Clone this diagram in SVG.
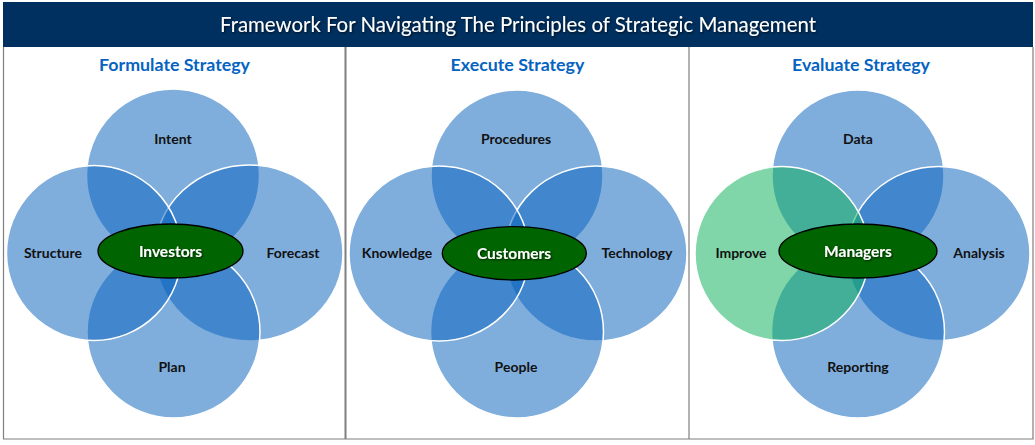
<svg xmlns="http://www.w3.org/2000/svg" width="1035" height="445" viewBox="0 0 1035 445">
<defs>
<style>
.bg{fill:#ffffff}
.hdr{fill:#00305f}
.frame{stroke:#7f7f7f;fill:none}
.htxt{font-family:Lato,"Liberation Sans",sans-serif;font-size:20.4px;fill:#ffffff;text-anchor:middle}
.ttl{font-family:Lato,"Liberation Sans",sans-serif;font-size:17.8px;font-weight:bold;fill:#0563c1;text-anchor:middle}
.c{fill:rgb(10,100,190);fill-opacity:0.52;stroke:#ffffff;stroke-width:1.5}
.g{fill:rgb(11,177,88);fill-opacity:0.52;stroke:#ffffff;stroke-width:1.5}
.lbl{font-family:Lato,"Liberation Sans",sans-serif;font-size:14px;font-weight:bold;fill:#111111;text-anchor:middle}
.hub{fill:#006400;stroke:#000000;stroke-width:1.3}
.hubt{font-family:Lato,"Liberation Sans",sans-serif;font-size:15.5px;font-weight:bold;fill:#ffffff;text-anchor:middle}
</style>
<filter id="sh" x="-20%" y="-40%" width="140%" height="180%">
<feDropShadow dx="1" dy="1" stdDeviation="0.8" flood-color="#000000" flood-opacity="0.7"/>
</filter>
</defs>
<rect class="bg" x="0" y="0" width="1035" height="445"/>
<g id="header">
<rect class="hdr" x="3" y="2" width="1030" height="45"/>
<text class="htxt" x="518" y="32" filter="url(#sh)">Framework For Navigating The Principles of Strategic Management</text>
</g>
<g id="frame">
<path class="frame" stroke-width="1.2" d="M3.5,47 V439 H1033 V47"/>
<line class="frame" stroke-width="2" x1="345.5" y1="47" x2="345.5" y2="439"/>
<line class="frame" stroke-width="1.2" x1="689" y1="47" x2="689" y2="439"/>
</g>
<g id="panel-formulate">
<text class="ttl" x="174.5" y="71">Formulate Strategy</text>
<g id="p1-intent"><circle class="c" cx="173" cy="175.5" r="86.5"/></g>
<g id="p1-forecast"><ellipse class="c" cx="249" cy="253" rx="94" ry="88"/></g>
<g id="p1-plan"><circle class="c" cx="173.5" cy="331.5" r="86.5"/></g>
<g id="p1-structure"><circle class="c" cx="94" cy="253" r="87.5"/></g>
<text class="lbl" x="173" y="144">Intent</text>
<text class="lbl" x="293" y="258">Forecast</text>
<text class="lbl" x="172" y="372">Plan</text>
<text class="lbl" x="53" y="258">Structure</text>
<g id="p1-investors">
<ellipse class="hub" cx="170.5" cy="251" rx="72.5" ry="27"/>
<text class="hubt" x="170.5" y="257" filter="url(#sh)">Investors</text>
</g>
</g>
<g id="panel-execute">
<text class="ttl" x="517.5" y="71">Execute Strategy</text>
<g id="p2-procedures"><circle class="c" cx="517" cy="176" r="86"/></g>
<g id="p2-technology"><ellipse class="c" cx="596" cy="253.5" rx="91" ry="87.5"/></g>
<g id="p2-people"><circle class="c" cx="517" cy="331.5" r="86.5"/></g>
<g id="p2-knowledge"><ellipse class="c" cx="439" cy="253.5" rx="90" ry="87.5"/></g>
<text class="lbl" x="516" y="144">Procedures</text>
<text class="lbl" x="637" y="258">Technology</text>
<text class="lbl" x="516" y="372">People</text>
<text class="lbl" x="397" y="258">Knowledge</text>
<g id="p2-customers">
<ellipse class="hub" cx="514.3" cy="253.3" rx="72" ry="26.7"/>
<text class="hubt" x="514" y="259" filter="url(#sh)">Customers</text>
</g>
</g>
<g id="panel-evaluate">
<text class="ttl" x="861" y="71">Evaluate Strategy</text>
<g id="p3-data"><circle class="c" cx="858" cy="176" r="86"/></g>
<g id="p3-analysis"><ellipse class="c" cx="938.5" cy="253.5" rx="91.5" ry="87"/></g>
<g id="p3-reporting"><circle class="c" cx="858" cy="331.5" r="86.5"/></g>
<g id="p3-improve"><ellipse class="g" cx="782" cy="253.5" rx="87" ry="87"/></g>
<text class="lbl" x="858" y="144">Data</text>
<text class="lbl" x="979" y="258">Analysis</text>
<text class="lbl" x="858" y="372">Reporting</text>
<text class="lbl" x="741" y="258">Improve</text>
<g id="p3-managers">
<ellipse class="hub" cx="858" cy="251" rx="79" ry="27"/>
<text class="hubt" x="858" y="257" filter="url(#sh)">Managers</text>
</g>
</g>
<g id="connectors"></g>
</svg>
